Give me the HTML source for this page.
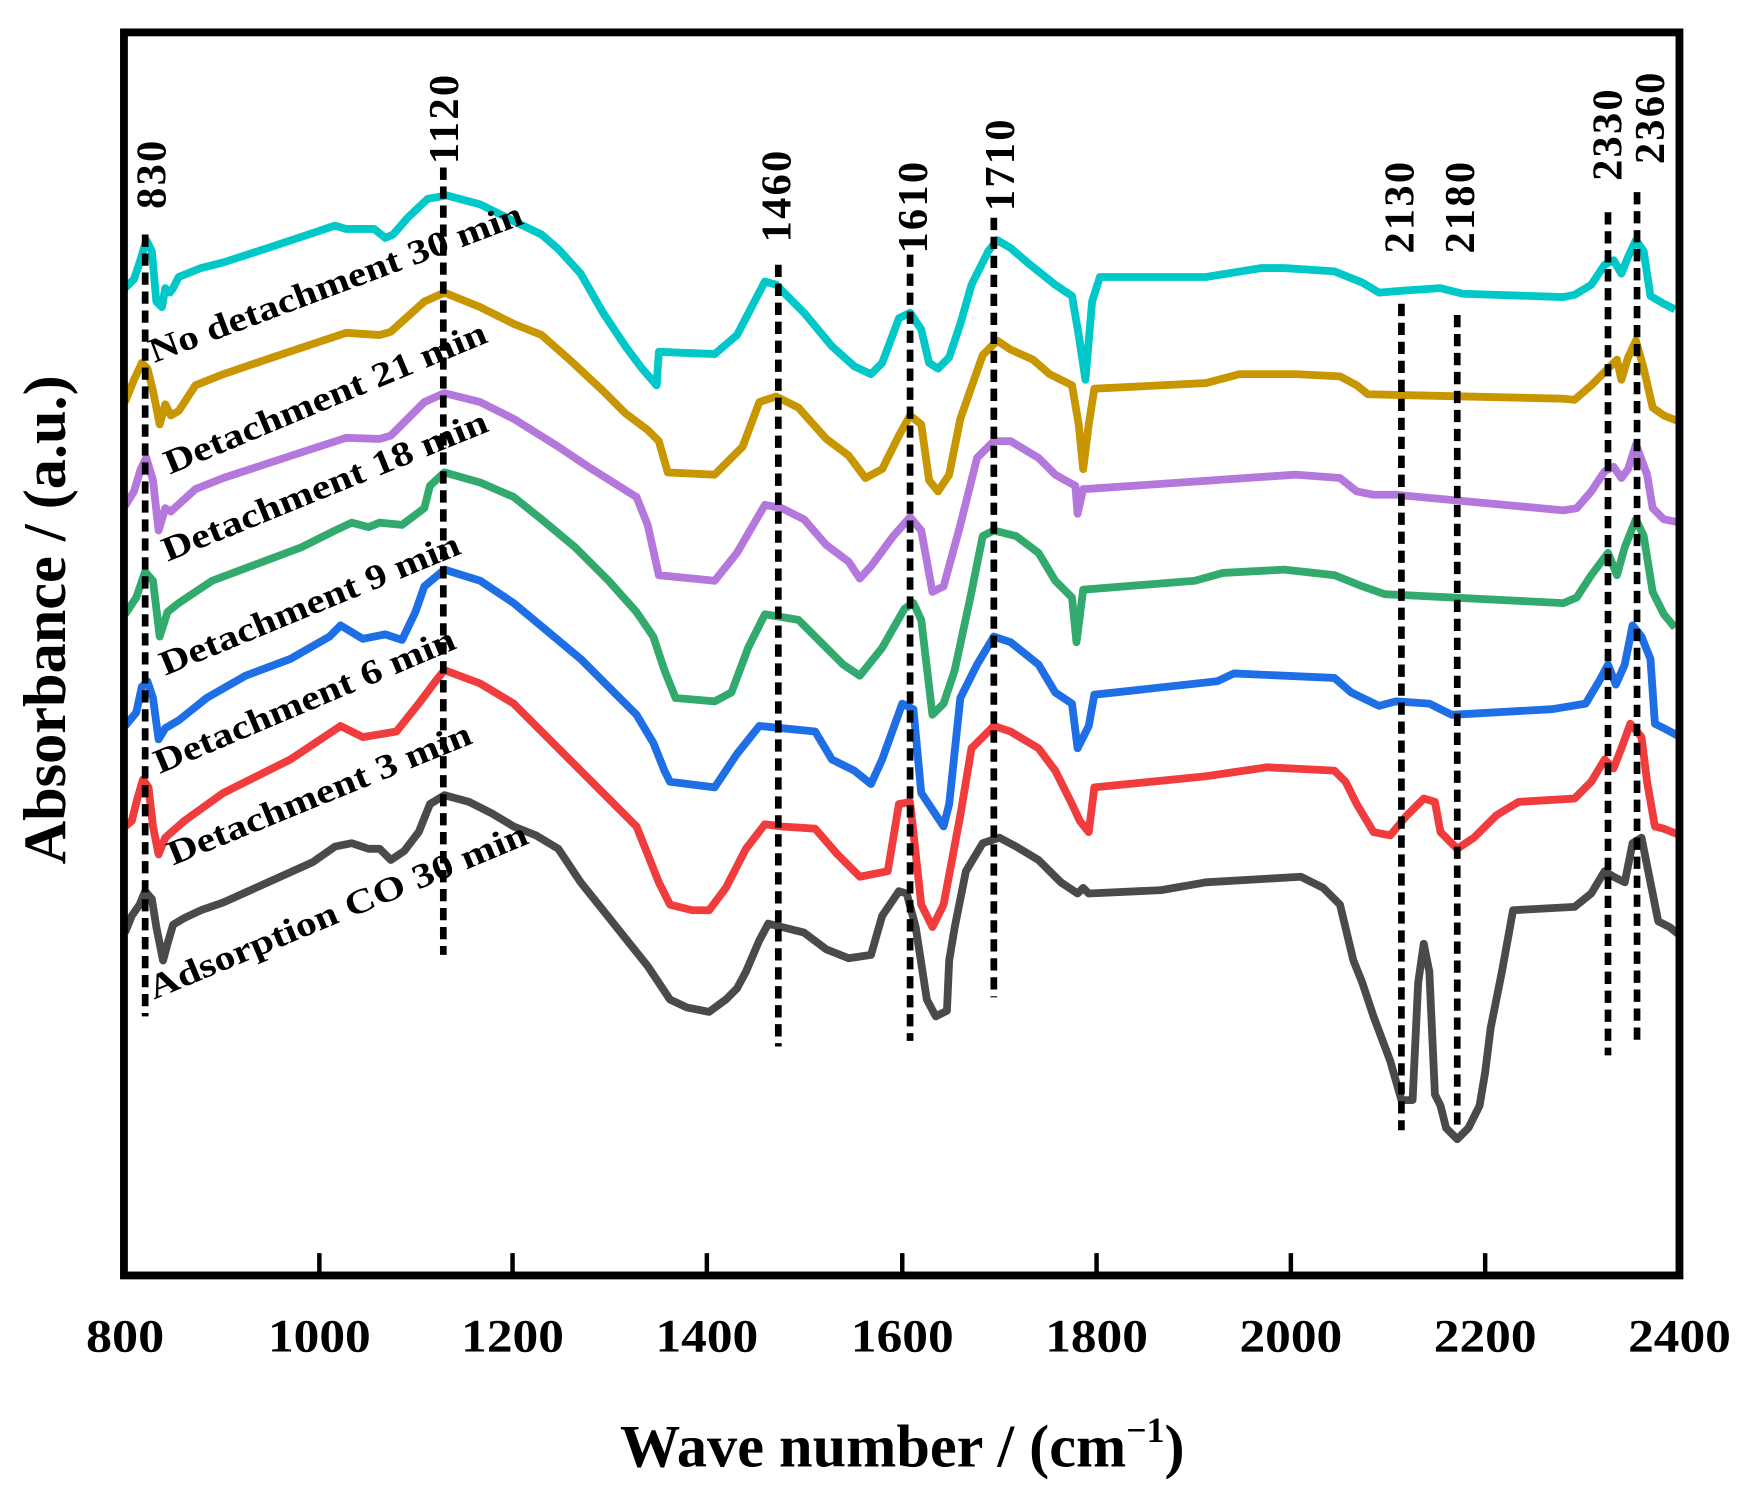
<!DOCTYPE html>
<html><head><meta charset="utf-8"><style>html,body{margin:0;padding:0;background:#fff}svg{display:block}</style></head>
<body>
<svg width="1742" height="1491" viewBox="0 0 1560 1335" preserveAspectRatio="none" xmlns="http://www.w3.org/2000/svg" font-family="Liberation Serif, serif" font-weight="bold">
<rect width="1560" height="1335" fill="#fff"/>
<g fill="none" stroke-width="7" stroke-linejoin="round">
<polyline stroke="#00c8c8" points="112,258 120,250 126,232 131,215 136,225 140,270 145,275 148,258 152,262 155,258 160,248 180,240 200,235 240,222 270,212 300,202 310,205 335,205 345,213 352,210 365,195 383,178 400,175 430,183 460,198 485,210 500,223 520,245 540,280 560,310 575,330 588,345 590,315 640,317 660,300 685,252 695,255 720,280 745,310 765,328 780,335 790,325 805,285 815,280 825,295 832,325 840,330 850,320 860,290 870,255 885,225 893,215 905,222 920,235 945,255 960,265 966,300 972,340 978,270 985,248 1080,248 1130,240 1150,240 1195,243 1220,253 1235,262 1260,260 1290,258 1310,263 1400,266 1410,264 1425,255 1437,237 1445,233 1452,245 1458,230 1465,215 1472,225 1478,265 1490,272 1500,277"/>
<polyline stroke="#c89600" points="112,360 120,340 127,325 132,330 137,350 143,380 148,362 153,372 160,368 175,345 200,335 250,318 310,298 340,300 350,297 380,270 398,262 430,275 460,290 485,300 510,322 540,350 560,370 580,385 590,395 598,423 640,425 665,400 680,360 695,355 715,365 740,393 760,408 775,428 790,420 805,390 815,372 825,380 832,430 840,440 850,425 860,375 880,318 893,305 905,313 925,322 940,335 960,345 966,380 970,420 975,380 980,348 1080,343 1110,335 1160,335 1200,337 1215,345 1225,353 1400,357 1410,358 1425,345 1440,330 1448,322 1452,340 1458,320 1465,305 1472,330 1480,365 1490,372 1505,378"/>
<polyline stroke="#b478dc" points="112,453 120,440 126,420 131,410 137,430 142,475 148,455 153,458 175,438 200,428 270,405 310,392 340,393 350,390 380,360 398,352 430,360 460,375 500,400 530,420 570,445 580,470 590,515 640,520 660,495 685,452 700,455 720,465 740,488 760,503 770,518 780,507 800,480 815,463 825,475 835,530 845,525 860,470 875,410 890,395 905,395 930,410 945,425 963,435 965,460 970,438 985,437 1160,425 1200,428 1215,440 1230,443 1250,443 1400,457 1412,455 1425,440 1437,422 1445,418 1452,428 1458,420 1465,398 1475,425 1480,455 1490,465 1505,468"/>
<polyline stroke="#32aa6e" points="112,550 122,535 130,512 137,520 143,570 150,548 160,540 175,530 190,520 230,505 270,490 300,475 315,468 330,472 340,468 360,470 380,455 385,435 398,423 430,432 460,445 485,465 515,490 545,520 570,548 585,570 595,600 605,625 640,628 655,620 670,580 685,550 715,555 735,575 755,595 770,605 790,580 810,545 818,540 825,555 835,640 845,630 855,600 870,530 880,480 890,475 910,480 930,495 945,520 960,535 964,575 970,528 1070,520 1095,513 1150,510 1195,515 1220,525 1240,532 1260,533 1400,540 1412,535 1425,515 1440,495 1448,515 1455,490 1465,465 1472,480 1480,530 1490,550 1500,562"/>
<polyline stroke="#1e6ee6" points="112,650 122,638 127,615 132,610 137,625 142,662 148,652 160,645 185,625 220,605 260,590 295,570 305,560 325,572 345,568 360,573 372,548 380,525 398,510 430,520 460,540 490,565 520,590 545,615 570,640 585,665 595,690 600,700 640,705 660,675 680,650 700,652 730,655 745,680 765,690 780,702 790,680 808,630 818,635 825,710 835,725 845,740 850,720 860,625 875,595 890,570 905,575 930,595 945,620 960,630 965,670 975,650 980,622 1090,610 1105,603 1195,607 1210,620 1235,632 1250,628 1280,630 1300,640 1390,635 1420,630 1432,610 1440,595 1447,613 1455,595 1462,560 1470,570 1478,590 1482,648 1490,652 1505,660"/>
<polyline stroke="#f03c3c" points="112,740 118,735 123,715 128,698 133,705 137,740 142,765 148,750 165,735 200,710 260,680 305,650 325,660 355,655 375,630 390,610 398,600 430,612 460,630 490,660 520,690 545,715 570,740 590,790 600,810 620,815 635,815 650,795 668,760 685,738 700,740 730,742 750,765 770,785 795,780 805,720 815,718 825,810 835,830 845,810 860,730 870,670 890,650 905,655 930,670 945,690 960,720 967,735 975,745 980,705 1080,695 1135,687 1195,690 1205,700 1215,720 1230,745 1245,748 1260,730 1275,715 1285,718 1290,745 1305,760 1320,750 1340,730 1360,718 1410,715 1425,700 1437,680 1445,688 1452,670 1460,648 1470,660 1475,700 1482,740 1490,742 1505,748"/>
<polyline stroke="#4a4a4a" points="112,835 118,820 125,810 130,798 136,805 140,830 146,860 150,845 155,828 165,822 180,815 200,808 240,790 280,772 300,758 315,755 330,760 340,760 350,770 362,762 375,745 385,720 398,712 420,718 440,728 460,740 480,748 500,760 520,790 540,815 560,840 580,865 600,895 615,902 635,906 650,895 660,885 668,870 680,842 688,827 720,835 740,850 760,858 780,855 790,820 805,798 812,800 820,830 830,895 838,910 848,905 850,860 855,830 865,780 880,755 895,750 910,758 930,770 950,790 965,800 970,795 975,800 1040,797 1080,790 1165,785 1185,795 1200,810 1212,860 1220,880 1230,910 1245,950 1255,985 1265,985 1270,880 1275,845 1280,870 1285,980 1290,990 1295,1010 1305,1020 1315,1010 1325,990 1330,960 1335,920 1345,870 1355,815 1410,812 1425,800 1437,780 1445,785 1455,790 1462,755 1470,750 1478,790 1485,825 1495,830 1505,838"/>
</g>
<g stroke="#000" stroke-width="6" stroke-dasharray="11,6">
<line x1="130" y1="210" x2="130" y2="910"/>
<line x1="397" y1="150" x2="397" y2="855"/>
<line x1="697" y1="237" x2="697" y2="937"/>
<line x1="815" y1="228" x2="815" y2="932"/>
<line x1="890" y1="195" x2="890" y2="893"/>
<line x1="1255" y1="272" x2="1255" y2="1012"/>
<line x1="1305" y1="282" x2="1305" y2="1010"/>
<line x1="1440" y1="190" x2="1440" y2="945"/>
<line x1="1466" y1="172" x2="1466" y2="937"/>
</g>
<g font-size="38" fill="#000" letter-spacing="2">
<text transform="translate(148,187) rotate(-90)">830</text>
<text transform="translate(410,147) rotate(-90)">1120</text>
<text transform="translate(708,217) rotate(-90)">1460</text>
<text transform="translate(830,227) rotate(-90)">1610</text>
<text transform="translate(908,189) rotate(-90)">1710</text>
<text transform="translate(1266,227) rotate(-90)">2130</text>
<text transform="translate(1320,227) rotate(-90)">2180</text>
<text transform="translate(1452,162) rotate(-90)">2330</text>
<text transform="translate(1490,147) rotate(-90)">2360</text>
</g>
<g font-size="31" fill="#000">
<text transform="translate(138,325) rotate(-20.6)" textLength="355" lengthAdjust="spacingAndGlyphs">No detachment 30 min</text>
<text transform="translate(152,425) rotate(-22.6)" textLength="310" lengthAdjust="spacingAndGlyphs">Detachment 21 min</text>
<text transform="translate(150,503) rotate(-22.1)" textLength="312" lengthAdjust="spacingAndGlyphs">Detachment 18 min</text>
<text transform="translate(148,605) rotate(-22.4)" textLength="288" lengthAdjust="spacingAndGlyphs">Detachment 9 min</text>
<text transform="translate(143,693) rotate(-22.9)" textLength="290" lengthAdjust="spacingAndGlyphs">Detachment 6 min</text>
<text transform="translate(155,775) rotate(-22.2)" textLength="291" lengthAdjust="spacingAndGlyphs">Detachment 3 min</text>
<text transform="translate(138,895) rotate(-22.6)" textLength="365" lengthAdjust="spacingAndGlyphs">Adsorption CO 30 min</text>
</g>
<rect x="111" y="29" width="1393" height="1113" fill="none" stroke="#000" stroke-width="7"/>
<g stroke="#000" stroke-width="4">
<line x1="286" y1="1142" x2="286" y2="1122"/><line x1="459" y1="1142" x2="459" y2="1122"/>
<line x1="633" y1="1142" x2="633" y2="1122"/><line x1="808" y1="1142" x2="808" y2="1122"/>
<line x1="982" y1="1142" x2="982" y2="1122"/><line x1="1156" y1="1142" x2="1156" y2="1122"/>
<line x1="1330" y1="1142" x2="1330" y2="1122"/>
</g>
<g font-size="42" fill="#000" text-anchor="middle">
<text x="112" y="1210" textLength="70" lengthAdjust="spacingAndGlyphs">800</text><text x="286" y="1210" textLength="92" lengthAdjust="spacingAndGlyphs">1000</text><text x="459" y="1210" textLength="92" lengthAdjust="spacingAndGlyphs">1200</text>
<text x="633" y="1210" textLength="92" lengthAdjust="spacingAndGlyphs">1400</text><text x="808" y="1210" textLength="92" lengthAdjust="spacingAndGlyphs">1600</text><text x="982" y="1210" textLength="92" lengthAdjust="spacingAndGlyphs">1800</text>
<text x="1156" y="1210" textLength="92" lengthAdjust="spacingAndGlyphs">2000</text><text x="1330" y="1210" textLength="92" lengthAdjust="spacingAndGlyphs">2200</text><text x="1504" y="1210" textLength="92" lengthAdjust="spacingAndGlyphs">2400</text>
</g>
<text x="808" y="1313" font-size="54" text-anchor="middle">Wave number / (cm<tspan font-size="32" dy="-22">−1</tspan><tspan dy="22">)</tspan></text>
<text transform="translate(58,555) rotate(-90)" font-size="54" text-anchor="middle">Absorbance / (a.u.)</text>
</svg>
</body></html>
